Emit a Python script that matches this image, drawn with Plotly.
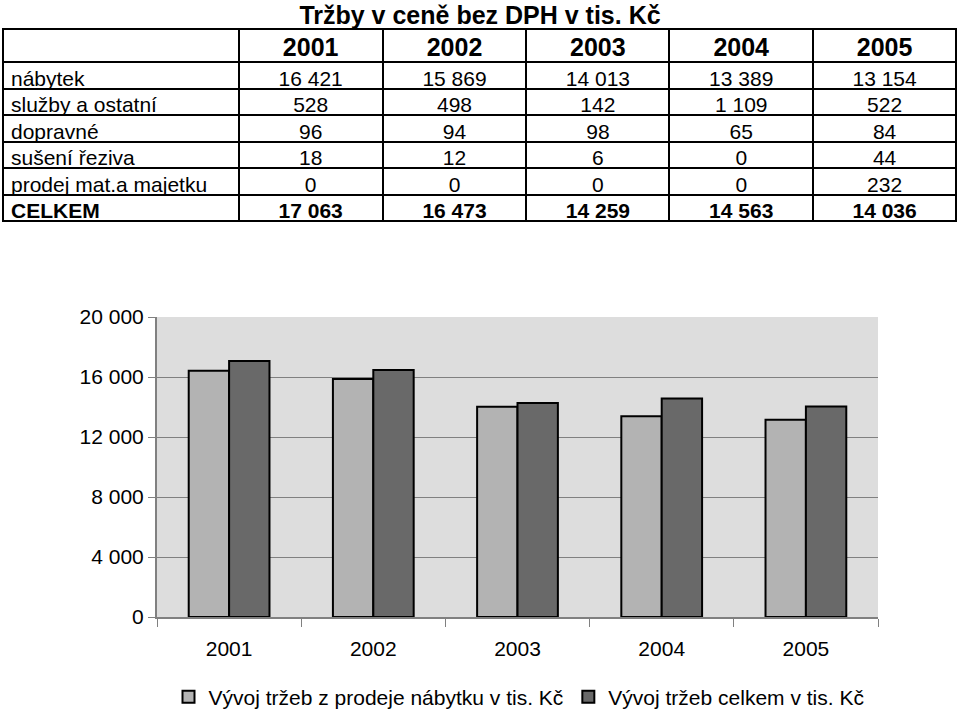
import plotly.graph_objects as go

years = ["2001", "2002", "2003", "2004", "2005"]
row_labels = ["nábytek", "služby a ostatní", "dopravné", "sušení řeziva",
              "prodej mat.a majetku"]
nabytek = [16421, 15869, 14013, 13389, 13154]
sluzby = [528, 498, 142, 1109, 522]
dopravne = [96, 94, 98, 65, 84]
suseni = [18, 12, 6, 0, 44]
prodej = [0, 0, 0, 0, 232]
celkem = [17063, 16473, 14259, 14563, 14036]
total_label = "CELKEM"

legend_names = ["Vývoj tržeb z prodeje nábytku v tis. Kč", "Vývoj tržeb celkem v tis. Kč"]

W, H = 960, 713
FONT = "Liberation Sans, Arial, sans-serif"
ROW_H = 26.5
HEAD_H = 33
TOP = 29


def fmt(v):
    return f"{v:,}".replace(",", " ")


rows = [nabytek, sluzby, dopravne, suseni, prodej]
columns = [row_labels]
for i in range(len(years)):
    columns.append([fmt(r[i]) for r in rows])
col_w = [236, 144, 144, 143, 144, 143]
tab_x = [3 / W, 956 / W]
line = dict(color="black", width=2)
align = ["left"] + ["center"] * 5

table = go.Table(
    domain=dict(x=tab_x, y=[0.6, 1 - TOP / H]),
    columnwidth=col_w,
    header=dict(values=[""] + years, align="center", height=HEAD_H,
                fill_color="white", line=line,
                font=dict(family=FONT, size=25, color="black", weight="bold")),
    cells=dict(values=columns, align=align, height=ROW_H,
               fill_color="white", line=line,
               font=dict(family=FONT, size=21, color="black")),
)

# CELKEM row as its own (header-only) table so it can be bold
total_top = TOP + HEAD_H + ROW_H * len(row_labels)
total_table = go.Table(
    domain=dict(x=tab_x, y=[0.6, 1 - total_top / H]),
    columnwidth=col_w,
    header=dict(values=[total_label] + [fmt(v) for v in celkem],
                align=align, height=ROW_H,
                fill_color="white", line=line,
                font=dict(family=FONT, size=21, color="black", weight="bold")),
)

bar1 = go.Bar(x=years, y=nabytek, name=legend_names[0],
              marker=dict(color="#b3b3b3", line=dict(color="black", width=2)))
bar2 = go.Bar(x=years, y=celkem, name=legend_names[1],
              marker=dict(color="#696969", line=dict(color="black", width=2)))

fig = go.Figure(data=[table, total_table, bar1, bar2])
fig.update_layout(
    width=W, height=H,
    margin=dict(l=0, r=0, t=0, b=0, autoexpand=False),
    paper_bgcolor="white",
    plot_bgcolor="#dddddd",
    separators=", ",
    font=dict(family=FONT, color="black"),
    title=dict(text="<b>Tržby v ceně bez DPH v tis. Kč</b>",
               x=0.5, xanchor="center", y=1 - 15 / H, yanchor="middle",
               font=dict(size=25, family=FONT, color="black")),
    barmode="group",
    bargap=0.44,
    bargroupgap=0,
    showlegend=True,
    legend=dict(orientation="h", x=519 / W, xanchor="center",
                y=1 - 697 / H, yanchor="middle",
                font=dict(size=21, family=FONT, color="black"),
                itemwidth=30, tracegroupgap=0),
    xaxis=dict(domain=[157 / W, 878 / W], type="category", automargin=False,
               showline=True, linecolor="#808080", linewidth=2,
               ticks="outside", tickson="boundaries", ticklen=8,
               tickcolor="#808080", tickwidth=1, ticklabelstandoff=12,
               tickfont=dict(size=21, family=FONT, color="black"),
               showgrid=False, zeroline=False),
    yaxis=dict(domain=[1 - 617 / H, 1 - 317 / H], range=[0, 20000], automargin=False,
               dtick=4000, tickformat=",d",
               showline=True, linecolor="#808080", linewidth=2,
               ticks="outside", ticklen=7, tickcolor="#808080",
               tickfont=dict(size=21, family=FONT, color="black"),
               showgrid=True, gridcolor="#808080", gridwidth=1,
               zeroline=False),
)

# the page's default body margin would shift the whole figure by 8px
fig.write_html("out.html", config={"displayModeBar": False},
               post_script="document.body.style.margin = '0px';")
